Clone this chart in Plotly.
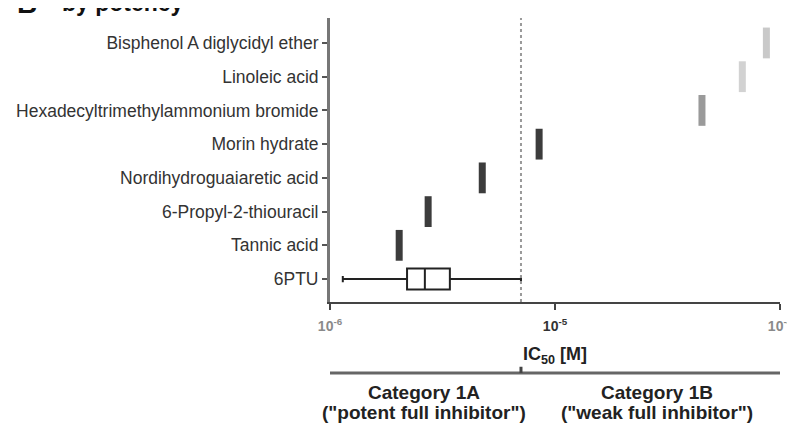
import plotly.graph_objects as go

# compounds, listed top to bottom as in the figure
compounds = [
    "Bisphenol A diglycidyl ether",
    "Linoleic acid",
    "Hexadecyltrimethylammonium bromide",
    "Morin hydrate",
    "Nordihydroguaiaretic acid",
    "6-Propyl-2-thiouracil",
    "Tannic acid",
]
ic50 = [8.7e-5, 6.8e-5, 4.5e-5, 8.5e-6, 4.75e-6, 2.73e-6, 2.03e-6]
mark_colors = ["#c9c9c9", "#d2d2d2", "#9a9a9a", "#3c3c3c", "#3c3c3c", "#3c3c3c", "#3c3c3c"]

# 6PTU reference distribution (box summary)
ptu_label = "6PTU"
ptu_min = 1.14e-6
ptu_q1 = 2.2e-6
ptu_median = 2.64e-6
ptu_q3 = 3.41e-6
ptu_max = 7.06e-6

# category cut-off (upper bound of 6PTU)
threshold = ptu_max

x_tickvals = [1e-6, 1e-5, 1e-4]
x_ticktext = [
    "<span style='color:#8a8a8a'>10<sup>-6</sup></span>",
    "10<sup>-5</sup>",
    "<span style='color:#8a8a8a'>10<sup>-4</sup></span>",
]

n = len(compounds)
y_pos = [n - i for i in range(n)]
y_labels = [ptu_label] + compounds[::-1]

FONT = "Liberation Sans, Arial, sans-serif"

fig = go.Figure()

# single-value compounds drawn as short vertical bars
fig.add_trace(go.Scatter(
    x=ic50, y=y_pos, mode="markers",
    marker=dict(symbol="line-ns", size=22,
                line=dict(width=7, color=mark_colors)),
    hoverinfo="x+y", showlegend=False,
))

# 6PTU box
fig.add_trace(go.Box(
    y=[0], orientation="h",
    lowerfence=[ptu_min], q1=[ptu_q1], median=[ptu_median],
    q3=[ptu_q3], upperfence=[ptu_max],
    width=0.62, whiskerwidth=0.3,
    fillcolor="white", line=dict(color="#222222", width=2),
    showlegend=False,
))

# dotted threshold line
fig.add_shape(type="line", xref="x", yref="paper",
              x0=threshold, x1=threshold, y0=0, y1=1,
              line=dict(color="#9a9a9a", width=2, dash="dot"))

# category bar below the axis
fig.add_shape(type="line", xref="x", yref="paper",
              x0=x_tickvals[0], x1=x_tickvals[-1], y0=-0.25, y1=-0.25,
              line=dict(color="#666666", width=3))
fig.add_shape(type="line", xref="x", yref="paper",
              x0=threshold, x1=threshold, y0=-0.25, y1=-0.228,
              line=dict(color="#444444", width=3))

ann_font = dict(family=FONT, size=19, color="#222222")
cat_labels = [
    (0.209, "<b>Category 1A</b>", "<b>(\"potent full inhibitor\")</b>"),
    (0.727, "<b>Category 1B</b>", "<b>(\"weak full inhibitor\")</b>"),
]
for cx, line1, line2 in cat_labels:
    fig.add_annotation(x=cx, y=-0.317, xref="paper", yref="paper", xanchor="center",
                       yanchor="middle", text=line1, showarrow=False, font=ann_font)
    fig.add_annotation(x=cx, y=-0.389, xref="paper", yref="paper", xanchor="center",
                       yanchor="middle", text=line2, showarrow=False, font=ann_font)

# panel heading, cut off at the top edge
fig.add_annotation(x=-0.7, y=0.988, xref="paper", yref="paper", xanchor="left",
                   yanchor="bottom", text="<b>B</b>", showarrow=False,
                   font=dict(family=FONT, size=28, color="#111111"))
fig.add_annotation(x=-0.6, y=1.0, xref="paper", yref="paper", xanchor="left",
                   yanchor="bottom", text="<b>by potency</b>", showarrow=False,
                   font=dict(family=FONT, size=23, color="#111111"))

fig.update_layout(
    width=795, height=423,
    margin=dict(l=322, r=23, t=10, b=129, autoexpand=False),
    paper_bgcolor="white", plot_bgcolor="white",
    font=dict(family=FONT, size=14, color="#333333"),
    xaxis=dict(
        type="log", range=[-6, -4], automargin=False,
        tickvals=x_tickvals, ticktext=x_ticktext,
        showline=True, linecolor="#444444", linewidth=2,
        ticks="outside", ticklen=6, tickwidth=2, tickcolor="#444444",
        ticklabelstandoff=4,
        showgrid=False, zeroline=False,
        tickfont=dict(family=FONT, size=14, color="#333333", weight="bold"),
        title=dict(text="<b>IC<sub>50</sub> [M]</b>", standoff=15,
                   font=dict(family=FONT, size=18, color="#222222")),
    ),
    yaxis=dict(
        range=[-0.68, 7.74], automargin=False,
        tickmode="array", tickvals=list(range(n + 1)), ticktext=y_labels,
        showline=True, linecolor="#777777", linewidth=3,
        ticks="outside", ticklen=5, tickwidth=2, tickcolor="#555555",
        showgrid=False, zeroline=False,
        tickfont=dict(family=FONT, size=17.5, color="#333333"),
    ),
)

fig.write_html("out.html")
